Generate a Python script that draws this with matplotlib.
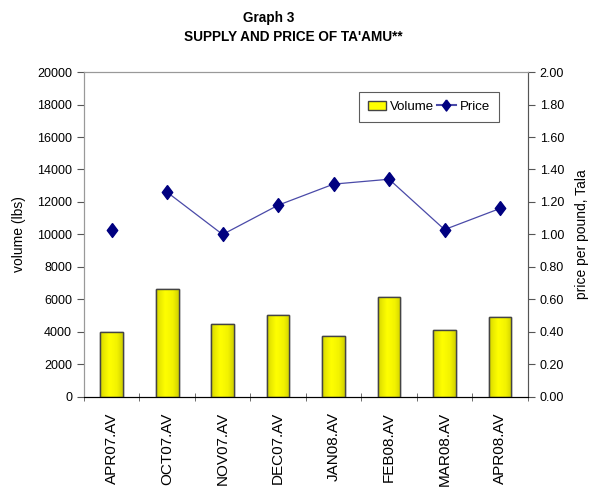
import matplotlib
matplotlib.use("Agg")
import matplotlib.pyplot as plt
import numpy as np
from matplotlib.lines import Line2D
from matplotlib.patches import Patch

plt.rcParams['font.family'] = ['Liberation Sans', 'DejaVu Sans']

categories = ["APR07.AV", "OCT07.AV", "NOV07.AV", "DEC07.AV",
              "JAN08.AV", "FEB08.AV", "MAR08.AV", "APR08.AV"]
volume = [4000, 6650, 4480, 5050, 3770, 6130, 4120, 4940]
price = [1.03, 1.26, 1.00, 1.18, 1.31, 1.34, 1.03, 1.16]

diamond = [(0, 1), (0.75, 0), (0, -1), (-0.75, 0), (0, 1)]

fig = plt.figure(figsize=(5.91, 4.90), dpi=100)
ax = fig.add_axes([0.142, 0.190, 0.751, 0.663])
x = np.arange(len(categories))

bars = ax.bar(x, volume, width=0.41, color="#ffff00", edgecolor="#555555",
              linewidth=1.0, zorder=2)
# horizontal gradient inside each bar (darker edges, bright centre)
g = np.linspace(0, 1, 64)
prof = np.interp(g, [0, 0.08, 0.4, 0.75, 1.0], [0.72, 0.88, 1.0, 0.95, 0.82])
img = np.zeros((1, 64, 3))
img[0, :, 0] = prof
img[0, :, 1] = prof
img[0, :, 2] = 0.0
for b in bars:
    x0, y0 = b.get_x(), b.get_y()
    w, h = b.get_width(), b.get_height()
    im = ax.imshow(img, extent=[x0, x0 + w, y0, y0 + h], aspect='auto',
                   zorder=2.5, interpolation='bicubic')
    im.set_clip_path(b)
    ax.add_patch(plt.Rectangle((x0, y0), w, h, fill=False,
                               edgecolor="#444444", linewidth=1.0, zorder=3))

ax.set_xlim(-0.5, len(categories) - 0.5)
ax.set_ylim(0, 20000)
ax.set_yticks(np.arange(0, 20001, 2000))
ax.set_yticklabels([str(v) for v in range(0, 20001, 2000)], fontsize=9)
ax.set_xticks(x)
ax.set_xticklabels(categories, rotation=90, fontsize=11)
ax.tick_params(axis='x', length=0, pad=11)
ax.set_xticks(np.arange(-0.5, len(categories), 1), minor=True)
ax.tick_params(axis='x', which='minor', length=6, color="#555555", direction='inout')
ax.tick_params(axis='y', length=5, color="#555555", direction='out')
ax.set_ylabel("volume (lbs)", fontsize=10, labelpad=8)

for s in ['left', 'top', 'right']:
    ax.spines[s].set_color("#999999")
ax.spines['bottom'].set_color("#222222")

ax2 = ax.twinx()
ax2.set_ylim(0, 2.0)
ax2.set_yticks(np.arange(0, 2.001, 0.2))
ax2.set_yticklabels([f"{v:.2f}" for v in np.arange(0, 2.001, 0.2)], fontsize=9)
ax2.tick_params(axis='y', length=5, color="#555555", direction='out')
ax2.spines['right'].set_color("#555555")
ax2.spines['top'].set_color("#999999")
ax2.spines['left'].set_color("#999999")
ax2.set_ylabel("price per pound, Tala", fontsize=10, labelpad=8)

# line connects only from OCT07 onward
ax2.plot(x[1:], price[1:], color="#4a4aa8", linewidth=0.9, zorder=3)
ax2.plot(x, price, linestyle='none', marker=diamond, markersize=10,
         color="#000080", zorder=4)

handles = [Patch(facecolor="#ffff00", edgecolor="#444444"),
           Line2D([0], [0], color="#4a4aa8", marker=diamond, markersize=8,
                  markerfacecolor="#000080", markeredgecolor="#000080")]
leg = ax2.legend(handles, ["Volume", "Price"], loc='upper right',
                 bbox_to_anchor=(0.95, 0.96), ncol=2, fontsize=9.5,
                 frameon=True, fancybox=False, edgecolor="#333333",
                 handlelength=1.4, handletextpad=0.3, columnspacing=0.2,
                 borderpad=0.7)
leg.get_frame().set_linewidth(0.8)

fig.text(0.455, 0.963, "Graph 3", ha='center', va='center', fontsize=9.8,
         fontweight='bold')
fig.text(0.496, 0.925, "SUPPLY AND PRICE OF TA'AMU**", ha='center', va='center',
         fontsize=9.8, fontweight='bold')

fig.savefig("out.png", dpi=100)
